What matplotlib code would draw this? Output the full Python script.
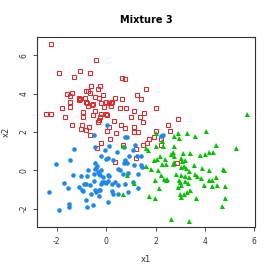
import matplotlib
matplotlib.use("Agg")
import matplotlib.pyplot as plt

# ---- data ----
red_x = [-2.24, -0.40, -1.93, -1.05, -0.65, -1.30, 0.63, 0.78, -0.62, -0.27,
         1.62, -0.35, -0.73, -0.81, -0.66, -1.59, -1.38, -0.11, 1.24, 1.40,
         -1.47, -1.11, -0.85, -0.46, -0.28, 0.36, 0.63, -1.46, -1.12, -1.05,
         -0.82, -0.76, -0.59, -0.54, -0.22, 0.00, 0.11, 0.18, 0.23, -1.46,
         -0.72, -0.08, 0.18, 0.54, 0.81, 2.00, -1.78, 1.13, -0.93, -0.46,
         1.55, -0.22, 0.00, 0.05, -0.54, -1.66, -0.94, -0.26, 1.00, 1.35,
         2.91, -2.43, -2.24, -0.30, -0.32, 0.32, 1.51, 0.59, -1.40, -0.96,
         -0.70, 2.52, 1.11, 0.11, 0.78, -1.03, -0.81, 0.05, 1.27, 1.13,
         0.40, 2.59, 2.00, -0.65, 1.92, 0.16, 1.73, -0.19, 2.24, 1.65,
         1.48, 0.70, 2.24, 1.19, -0.36, 1.21, 0.36, 2.86]
red_y = [6.58, 5.74, 5.08, 5.18, 5.10, 4.85, 4.80, 4.75, 4.42, 4.40,
         4.23, 4.23, 4.16, 4.16, 4.02, 3.97, 4.02, 3.95, 3.93, 3.70,
         3.85, 3.78, 3.79, 3.81, 3.78, 3.79, 3.74, 3.57, 3.67, 3.70,
         3.58, 3.50, 3.43, 3.46, 3.52, 3.55, 3.50, 3.53, 3.57, 3.32,
         3.36, 3.32, 3.36, 3.25, 3.25, 3.23, 3.25, 3.07, 3.04, 3.07,
         2.99, 2.93, 2.93, 2.90, 2.88, 2.76, 2.76, 2.78, 2.78, 2.78,
         2.68, 2.93, 2.92, 2.62, 2.52, 2.57, 2.52, 2.35, 2.35, 2.35,
         2.28, 2.35, 2.24, 2.24, 2.21, 2.16, 2.10, 2.07, 2.02, 2.02,
         1.93, 2.07, 2.04, 1.83, 1.72, 1.62, 1.62, 1.44, 1.62, 1.44,
         1.34, 1.30, 1.30, 1.13, 1.18, 0.64, 0.43, 0.40]

blue_x = [-0.51, 0.03, 0.12, -1.31, -0.46, -0.03, -0.19, 0.01, 0.09, -1.48,
          -2.04, -0.45, -0.39, -0.40, -0.47, -0.19, -0.72, -1.36, -1.03, -0.77,
          -0.51, -0.28, -0.27, 0.09, 0.12, -0.12, -1.69, -0.88, -0.81, -0.66,
          -0.51, -0.16, -0.07, 0.00, 0.07, -0.19, 0.22, -1.55, -1.08, -0.97,
          -0.93, -0.45, -0.30, -0.24, -0.40, -2.31, -0.63, -0.31, 0.22, -0.81,
          0.09, -1.50, -1.52, -0.55, -0.76, -1.93, 0.76, 0.85, 0.43, 0.73,
          1.07, 1.16, 0.93, 1.24, 1.43, 0.77, 0.73, 0.84, 0.26, 1.13,
          1.43, 1.47, 0.49, 0.69, 0.89, 1.27, 0.34, 0.46, 0.78, 1.08,
          1.30, 0.26, 0.46, 0.89, 2.31, 2.21, -0.35, 0.56]
blue_y = [1.86, 2.38, 1.29, 1.11, 1.22, 1.04, 0.73, 0.59, 0.64, 0.52,
          0.31, 0.38, 0.24, 0.14, 0.07, 0.03, 0.00, -0.24, -0.31, -0.30,
          -0.17, -0.21, -0.26, -0.23, -0.31, -0.37, -0.65, -0.70, -0.70, -0.75,
          -0.58, -0.61, -0.63, -0.66, -0.56, -0.70, -0.70, -0.92, -0.87, -1.01,
          -1.08, -1.03, -1.01, -1.05, -1.15, -1.13, -1.22, -1.36, -1.10, -1.54,
          -1.64, -1.75, -1.92, -1.82, -1.90, -2.09, 1.76, 1.73, 0.96, 1.22,
          1.08, 1.34, 0.73, 0.77, 0.77, 0.56, 0.38, 0.38, 0.56, 0.30,
          0.30, 0.16, 0.07, -0.17, -0.14, -0.19, -0.63, -0.75, -0.73, -0.59,
          -0.92, -1.22, -1.22, -1.15, 1.85, 1.80, -0.07, 0.02]

green_x = [5.71, 3.28, 3.60, 4.06, 4.44, 5.25, 2.01, 2.90, 2.27, 0.67,
           1.63, 1.70, 2.01, 2.75, 2.93, 2.73, 2.70, 2.62, 3.12, 2.75,
           1.94, 2.04, 2.19, 2.38, 2.42, 2.28, 2.69, 2.75, 3.04, 3.09,
           1.61, 1.81, 2.08, 3.02, 3.16, 2.24, 2.82, 2.35, 2.42, 2.48,
           1.98, 2.93, 3.00, 3.05, 3.18, 0.86, 1.11, 0.67, 2.15, 2.92,
           3.00, 3.05, 1.74, 1.96, 2.62, 3.41, 3.78, 3.99, 4.16, 4.32,
           3.20, 3.55, 3.89, 4.17, 4.74, 4.78, 3.25, 3.35, 3.59, 3.68,
           3.85, 4.16, 4.28, 4.43, 3.18, 3.35, 3.33, 3.95, 4.30, 4.49,
           4.80, 3.28, 3.41, 3.14, 3.64, 4.80, 4.71, 3.36, 3.02, 2.30]
green_y = [2.95, 1.97, 1.80, 2.04, 1.33, 1.15, 1.97, 1.97, 1.54, 1.29,
           1.15, 1.06, 1.29, 1.81, 1.69, 1.26, 0.94, 0.87, 0.91, 0.77,
           0.52, 0.59, 0.77, 0.59, 0.35, 0.33, 0.33, 0.42, 0.65, 0.47,
           0.24, 0.09, 0.00, 0.17, 0.21, -0.23, -0.17, -0.45, -0.49, -0.44,
           -0.52, -0.49, -0.63, -0.75, -0.54, -0.23, -0.66, -1.22, -0.92, -0.87,
           -1.22, -1.40, -1.33, -1.45, -2.53, 0.91, 0.82, 0.87, 0.96, 0.96,
           0.52, 0.30, 0.12, 0.00, 0.07, 0.03, 0.12, -0.05, -0.19, -0.31,
           -0.42, -0.49, -0.49, -0.35, -0.28, -0.35, -0.66, -0.79, -0.84, -0.77,
           -0.82, -1.15, -1.05, -1.22, -1.45, -1.47, -1.88, -2.62, -0.24, 1.25]

x_ticks = [-2, 0, 2, 4, 6]
y_ticks = [-2, 0, 2, 4, 6]

C_RED = "#DF2A2E"
C_BLUE = "#2088E8"
C_GREEN = "#00C400"

fig = plt.figure(figsize=(2.74, 2.74), dpi=100)
ax = fig.add_axes([0.136, 0.170, 0.795, 0.694])

ax.plot(red_x, red_y, ls="none", marker="s", ms=3.5, mfc="none",
        mec=C_RED, mew=0.75)
ax.plot(blue_x, blue_y, ls="none", marker="o", ms=3.3, mfc=C_BLUE,
        mec=C_BLUE, mew=0)
ax.plot(green_x, green_y, ls="none", marker="^", ms=3.6, mfc=C_GREEN,
        mec=C_GREEN, mew=0)

ax.set_xlim(-2.79, 6.03)
ax.set_ylim(-2.98, 6.94)
ax.set_xticks(x_ticks)
ax.set_yticks(y_ticks)
ax.set_xticklabels([str(t) for t in x_ticks], fontsize=5.5, color="#333333")
ax.set_yticklabels([str(t) for t in y_ticks], fontsize=5.5, color="#333333",
                   rotation=90, va="center")
ax.tick_params(axis="x", direction="out", length=3, width=0.6, pad=4, color="#333333")
ax.tick_params(axis="y", direction="out", length=3, width=0.6, pad=3, color="#333333")
for s in ax.spines.values():
    s.set_linewidth(0.8)
    s.set_color("#333333")

ax.set_xlabel("x1", fontsize=6, color="#333333")
ax.set_ylabel("x2", fontsize=6, color="#333333")
# place axis labels where the reference has them (axes fraction)
ax.xaxis.set_label_coords(0.5, -0.145)
ax.yaxis.set_label_coords(-0.12, 0.5)
ax.set_title("Mixture 3", fontsize=7, fontweight="bold", pad=10)

fig.savefig("out.png", dpi=100)
